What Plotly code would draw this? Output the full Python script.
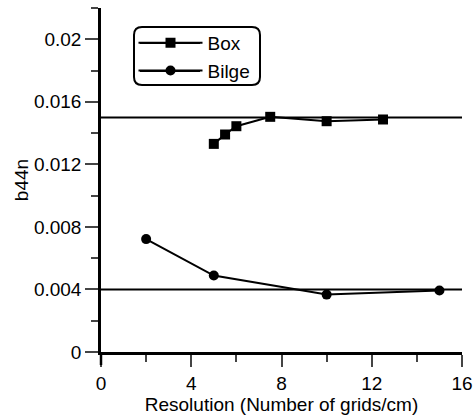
import plotly.graph_objects as go

# Data
box_x = [5, 5.5, 6, 7.5, 10, 12.5]
box_y = [0.01331, 0.01391, 0.01444, 0.01504, 0.01476, 0.01487]
bilge_x = [2, 5, 10, 15]
bilge_y = [0.00722, 0.00489, 0.00367, 0.00393]
ref_levels = [0.015, 0.004]
ref_x = [0, 16]
x_ticks = [0, 4, 8, 12, 16]
y_ticks = [0, 0.004, 0.008, 0.012, 0.016, 0.02]
y_ticktext = ["0", "0.004", "0.008", "0.012", "0.016", "0.02"]

FONT = "Liberation Sans, Arial, sans-serif"

fig = go.Figure()
for lvl in ref_levels:
    fig.add_trace(go.Scatter(x=ref_x, y=[lvl, lvl], mode="lines",
                             line=dict(color="black", width=2),
                             showlegend=False, hoverinfo="skip"))
fig.add_trace(go.Scatter(x=box_x, y=box_y, mode="lines+markers", name="Box",
                         line=dict(color="black", width=2),
                         marker=dict(symbol="square", size=10, color="black")))
fig.add_trace(go.Scatter(x=bilge_x, y=bilge_y, mode="lines+markers", name="Bilge",
                         line=dict(color="black", width=2),
                         marker=dict(symbol="circle", size=10, color="black")))

# plot area: 101..462 px horizontally, 8..352 px vertically
PW, PH = 361.0, 344.0
def px(xp):
    return (xp - 101) / PW
def py(yp):
    return (352 - yp) / PH

# rounded legend frame
x0, x1, y0, y1 = px(134), px(260), py(85), py(27)
rx, ry = 8 / PW, 8 / PH
path = (f"M {x0+rx},{y0} L {x1-rx},{y0} Q {x1},{y0} {x1},{y0+ry} "
        f"L {x1},{y1-ry} Q {x1},{y1} {x1-rx},{y1} L {x0+rx},{y1} "
        f"Q {x0},{y1} {x0},{y1-ry} L {x0},{y0+ry} Q {x0},{y0} {x0+rx},{y0} Z")
fig.add_shape(type="path", path=path, xref="paper", yref="paper",
              line=dict(color="black", width=2), fillcolor="white", layer="below")
# longer legend line samples
for row in (43, 71):
    fig.add_shape(type="line", xref="paper", yref="paper",
                  x0=px(140), x1=px(200), y0=py(row), y1=py(row),
                  line=dict(color="black", width=2), layer="below")
# y-axis line continues below the x axis
fig.add_shape(type="line", xref="paper", yref="paper", x0=0, x1=0,
              y0=0, y1=-13 / PH, line=dict(color="black", width=2.5))

fig.update_layout(
    width=474, height=416,
    margin=dict(l=101, r=12, t=8, b=64, autoexpand=False),
    paper_bgcolor="white", plot_bgcolor="white",
    font=dict(family=FONT, size=19, color="black"),
    showlegend=True,
    legend=dict(x=px(133.5), y=py(24), xanchor="left", yanchor="top",
                bgcolor="rgba(0,0,0,0)", borderwidth=0, itemwidth=64,
                font=dict(size=19), tracegroupgap=0),
    xaxis=dict(range=[0, 16], tickvals=x_ticks, ticks="outside", ticklen=12,
               tickwidth=2, showline=True, linewidth=2.5, linecolor="black",
               showgrid=False, zeroline=False, automargin=False,
               minor=dict(dtick=2, ticks="outside", ticklen=7, tickwidth=2, showgrid=False),
               title=dict(text="Resolution (Number of grids/cm)", standoff=0,
                          font=dict(size=19)),
               tickfont=dict(size=19)),
    yaxis=dict(range=[0, 0.022], tickvals=y_ticks, ticktext=y_ticktext,
               ticks="outside", ticklen=13, tickwidth=2, showline=True,
               linewidth=2.5, linecolor="black", showgrid=False, zeroline=False,
               automargin=False,
               minor=dict(dtick=0.002, ticks="outside", ticklen=7, tickwidth=2, showgrid=False),
               title=dict(text="b44n", standoff=1, font=dict(size=19)),
               tickfont=dict(size=19)),
)

fig.write_html("out.html", config={"displayModeBar": False},
               post_script="document.body.style.margin='0';document.body.style.overflow='hidden';")
